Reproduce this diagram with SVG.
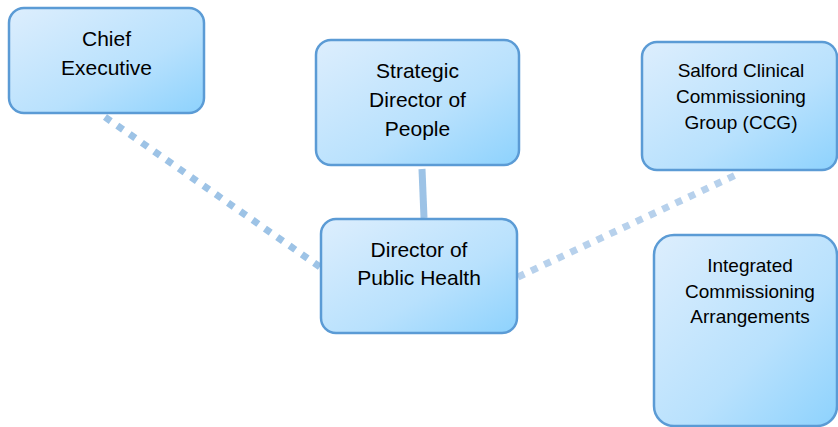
<svg xmlns="http://www.w3.org/2000/svg" width="838" height="427" viewBox="0 0 838 427">
<style>
.box{fill:url(#g);stroke:#5b9bd5;stroke-width:2.5}
.t{font-family:"Liberation Sans",Arial,sans-serif;font-size:21px;fill:#000;text-anchor:middle}
.s{font-size:19px}
.dot{fill:none;stroke:#9dc3e6;stroke-width:7;stroke-dasharray:7 8}
.dot2{stroke:#b7d1ec;stroke-dasharray:7 7.5}
.solid{fill:none;stroke:#9dc3e6;stroke-width:7}
</style>
<defs>
<linearGradient id="g" x1="0" y1="0" x2="1" y2="1">
<stop offset="0" stop-color="#ddeefd"/>
<stop offset="0.6" stop-color="#b8e1fd"/>
<stop offset="1" stop-color="#8dd2fd"/>
</linearGradient>
</defs>
<g id="connectors">
<line class="dot" x1="105" y1="117" x2="320" y2="267"/>
<line class="solid" x1="422" y1="169" x2="424" y2="218"/>
<line class="dot dot2" x1="518" y1="277" x2="740" y2="173"/>
</g>
<g id="chief-executive">
<rect class="box" x="9" y="8" width="195" height="105" rx="15"/>
<text class="t" x="106.5" y="46">Chief</text>
<text class="t" x="106.5" y="75">Executive</text>
</g>
<g id="strategic-director">
<rect class="box" x="316" y="40" width="203" height="125" rx="15"/>
<text class="t" x="417.5" y="78">Strategic</text>
<text class="t" x="417.5" y="107">Director of</text>
<text class="t" x="417.5" y="136">People</text>
</g>
<g id="director-public-health">
<rect class="box" x="321" y="219" width="196" height="114" rx="15"/>
<text class="t" x="419" y="257">Director of</text>
<text class="t" x="419" y="285">Public Health</text>
</g>
<g id="salford-ccg">
<rect class="box" x="642" y="42" width="195" height="128" rx="15"/>
<text class="t s" x="741" y="77">Salford Clinical</text>
<text class="t s" x="741" y="103">Commissioning</text>
<text class="t s" x="741" y="129">Group (CCG)</text>
</g>
<g id="integrated-commissioning">
<rect class="box" x="654" y="235" width="183" height="191" rx="20"/>
<text class="t s" x="750" y="272">Integrated</text>
<text class="t s" x="750" y="298">Commissioning</text>
<text class="t s" x="750" y="323">Arrangements</text>
</g>
</svg>
